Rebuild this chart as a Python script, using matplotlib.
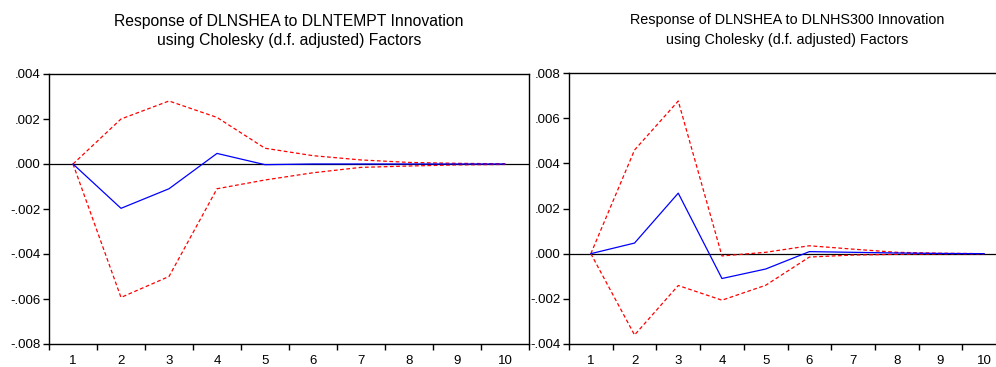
"""Impulse responses of DLNSHEA (Cholesky, d.f. adjusted) with +/- 2 S.E. bands."""
import matplotlib
matplotlib.use("Agg")
import matplotlib.pyplot as plt
import numpy as np
from matplotlib.ticker import FixedLocator, FuncFormatter

plt.rcParams["font.family"] = ["Liberation Sans", "DejaVu Sans"]

periods = list(range(1, 11))

# response of DLNSHEA to DLNTEMPT
temp_resp  = [0.0, -0.00197, -0.00110, 0.00047, -0.00003, 0.0, 0.0, 0.0, 0.0, 0.0]
temp_upper = [0.0, 0.00200, 0.00280, 0.00207, 0.00070, 0.00037, 0.00018, 0.00007, 0.00003, 0.00001]
temp_lower = [0.0, -0.00593, -0.00500, -0.00110, -0.00071, -0.00039, -0.00015, -0.00009, -0.00004, -0.00002]

# response of DLNSHEA to DLNHS300
hs_resp  = [0.0, 0.00047, 0.00268, -0.00110, -0.00068, 0.00009, 0.00006, 0.00003, 0.00001, 0.0]
hs_upper = [0.0, 0.00459, 0.00676, -0.00010, 0.00006, 0.00035, 0.00020, 0.00006, 0.00002, 0.0]
hs_lower = [0.0, -0.00360, -0.00141, -0.00206, -0.00140, -0.00015, -0.00006, -0.00003, -0.00001, 0.0]

temp_yticks = [0.004, 0.002, 0.0, -0.002, -0.004, -0.006, -0.008]
hs_yticks = [0.008, 0.006, 0.004, 0.002, 0.0, -0.002, -0.004]

titles = [
    "Response of DLNSHEA to DLNTEMPT Innovation\nusing Cholesky (d.f. adjusted) Factors",
    "Response of DLNSHEA to DLNHS300 Innovation\nusing Cholesky (d.f. adjusted) Factors",
]


def eviews_fmt(v, pos=None):
    s = f"{v:.3f}"
    return s.replace("0.", ".", 1)


def draw_panel(ax, resp, upper, lower, yticks):
    ax.axhline(0, color="black", linewidth=0.9, zorder=1)
    ax.plot(periods, upper, color="red", linestyle=(0, (3, 2)), linewidth=0.9)
    ax.plot(periods, lower, color="red", linestyle=(0, (3, 2)), linewidth=0.9)
    ax.plot(periods, resp, color="blue", linewidth=0.9)
    ax.set_xlim(0.5, 10.5)
    ax.set_ylim(min(yticks), max(yticks))
    ax.yaxis.set_major_locator(FixedLocator(yticks))
    ax.yaxis.set_major_formatter(FuncFormatter(eviews_fmt))
    ax.set_xticks(periods)
    ax.set_xticklabels([str(p) for p in periods])
    ax.set_xticks(np.arange(0.5, 11.0, 1.0), minor=True)
    ax.tick_params(axis="x", which="major", length=0, pad=8, labelsize=9.5)
    ax.tick_params(axis="x", which="minor", length=4, width=1, direction="out")
    ax.tick_params(axis="y", length=4, width=1, direction="out", pad=2, labelsize=9.5)
    for sp in ax.spines.values():
        sp.set_linewidth(1.0)


fig = plt.figure(figsize=(9.96, 3.67), dpi=100)
ax1 = fig.add_axes([49 / 996, 1 - 344 / 367, 480 / 996, 270 / 367])
ax2 = fig.add_axes([569 / 996, 1 - 344 / 367, 437 / 996, 271 / 367])

draw_panel(ax1, temp_resp, temp_upper, temp_lower, temp_yticks)
draw_panel(ax2, hs_resp, hs_upper, hs_lower, hs_yticks)

fig.text(289 / 996, 1 - 31 / 367, titles[0], ha="center", va="center",
         fontsize=11.35, linespacing=1.38)
fig.text(787 / 996, 1 - 30 / 367, titles[1], ha="center", va="center",
         fontsize=10.4, linespacing=1.5)

fig.savefig("out.png", dpi=100)
